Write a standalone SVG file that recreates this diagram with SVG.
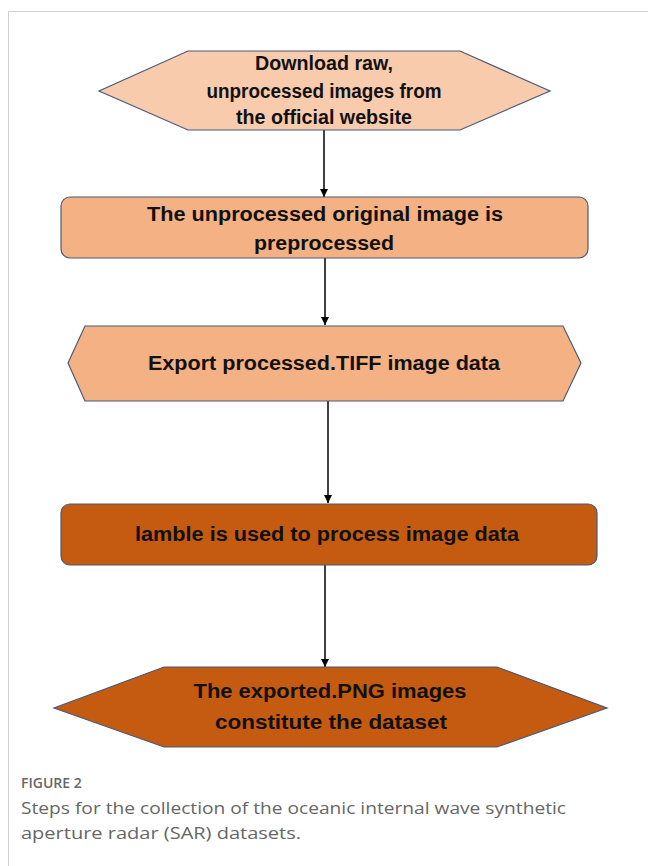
<svg xmlns="http://www.w3.org/2000/svg" width="648" height="866" viewBox="0 0 648 866">
<defs>
<marker id="ah" viewBox="0 0 10 10" refX="10" refY="5" markerWidth="8" markerHeight="8" markerUnits="userSpaceOnUse" orient="auto">
<path d="M0,0 L10,5 L0,10 z" fill="#000"/>
</marker>
<style>
.nt{font-family:"Liberation Sans",Arial,sans-serif;font-weight:bold;font-size:20px;fill:#111;text-anchor:middle}
.sh{stroke:#4A5A78;stroke-width:1.2}
.c1{fill:#F8CBAD}
.c2{fill:#F4B183}
.c3{fill:#C55A11}
.cn{stroke:#000;stroke-width:1.5;fill:none;marker-end:url(#ah)}
.cap{font-family:"Open Sans","Liberation Sans",sans-serif;fill:#666}
</style>
</defs>
<rect width="648" height="866" fill="#fff"/>
<path d="M8.5,866 V11.5 H648" fill="none" stroke="#d0d0d0" stroke-width="1"/>
<g id="connectors">
<line class="cn" x1="324" y1="130" x2="324" y2="197"/>
<line class="cn" x1="325" y1="258" x2="325" y2="325"/>
<line class="cn" x1="328" y1="401" x2="328" y2="503"/>
<line class="cn" x1="325" y1="565" x2="325" y2="667"/>
</g>
<g id="n1">
<polygon class="sh c1" points="188,51 460,51 550,91 460,130 188,130 99,91"/>
<text class="nt" x="324" y="70" textLength="138" lengthAdjust="spacingAndGlyphs">Download raw,</text>
<text class="nt" x="324" y="98" textLength="235" lengthAdjust="spacingAndGlyphs">unprocessed images from</text>
<text class="nt" x="324" y="124" textLength="176" lengthAdjust="spacingAndGlyphs">the official website</text>
</g>
<g id="n2">
<rect class="sh c2" x="61" y="197" width="527" height="61" rx="9"/>
<text class="nt" x="325" y="221" textLength="356" lengthAdjust="spacingAndGlyphs">The unprocessed original image is</text>
<text class="nt" x="324" y="250" textLength="140" lengthAdjust="spacingAndGlyphs">preprocessed</text>
</g>
<g id="n3">
<polygon class="sh c2" points="85,326 563,326 581,363 563,401 85,401 68,363"/>
<text class="nt" x="324" y="370" textLength="352" lengthAdjust="spacingAndGlyphs">Export processed.TIFF image data</text>
</g>
<g id="n4">
<rect class="sh c3" x="61" y="504" width="536" height="61" rx="9"/>
<text class="nt" x="327" y="541" textLength="384" lengthAdjust="spacingAndGlyphs">lamble is used to process image data</text>
</g>
<g id="n5">
<polygon class="sh c3" points="164,667 497,667 607,708 497,747 164,747 54,708"/>
<text class="nt" x="330" y="698" textLength="273" lengthAdjust="spacingAndGlyphs">The exported.PNG images</text>
<text class="nt" x="331" y="729" textLength="232" lengthAdjust="spacingAndGlyphs">constitute the dataset</text>
</g>
<g id="caption">
<text class="cap" x="21" y="788" font-size="14" font-weight="600" fill="#555">FIGURE 2</text>
<text class="cap" x="21" y="814" font-size="17" textLength="545" lengthAdjust="spacingAndGlyphs">Steps for the collection of the oceanic internal wave synthetic</text>
<text class="cap" x="21" y="839" font-size="17" textLength="280" lengthAdjust="spacingAndGlyphs">aperture radar (SAR) datasets.</text>
</g>
</svg>
